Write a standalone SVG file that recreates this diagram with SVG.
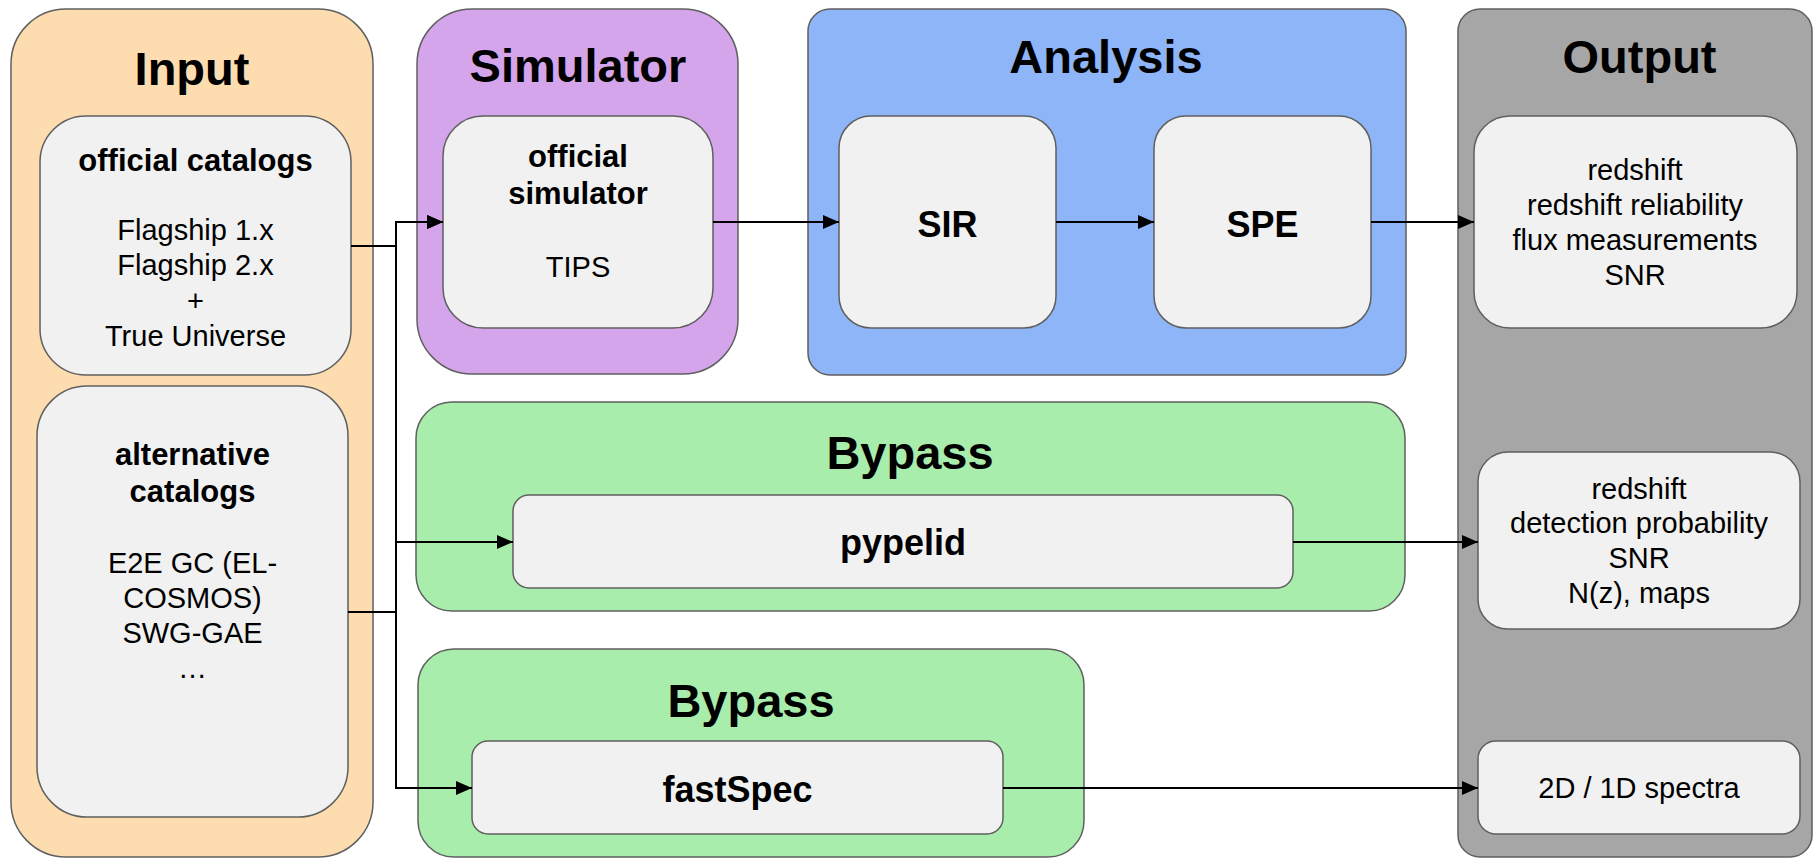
<svg xmlns="http://www.w3.org/2000/svg" width="1813" height="858" viewBox="0 0 1813 858">
<defs>
<marker id="ah" markerWidth="16" markerHeight="14" refX="16" refY="7" orient="auto" markerUnits="userSpaceOnUse">
<path d="M0,0 L16,7 L0,14 Z" fill="#000"/>
</marker>
<style>
.c{stroke:#5f5f5f;stroke-width:1.5}
.in{fill:#f1f1f1;stroke:#5f5f5f;stroke-width:1.5}
text{font-family:"Liberation Sans",Arial,sans-serif;fill:#000;text-anchor:middle}
.t{font-size:47px;font-weight:bold}
.b{font-size:31px;font-weight:bold}
.bb{font-size:36px;font-weight:bold}
.r{font-size:29px}
.e{fill:none;stroke:#000;stroke-width:2}
</style>
</defs>
<rect width="1813" height="858" fill="#fff"/>
<g id="input">
<rect class="c" x="11" y="9" width="362" height="848" rx="55" fill="#fddcb0"/>
<text class="t" x="192" y="85">Input</text>
</g>
<g id="official-catalogs">
<rect class="in" x="40" y="116" width="311" height="259" rx="46"/>
<text class="b" x="195.5" y="171">official catalogs</text>
<text class="r" x="195.5" y="240">Flagship 1.x</text>
<text class="r" x="195.5" y="275">Flagship 2.x</text>
<text class="r" x="195.5" y="311">+</text>
<text class="r" x="195.5" y="346">True Universe</text>
</g>
<g id="alternative-catalogs">
<rect class="in" x="37" y="386" width="311" height="431" rx="50"/>
<text class="b" x="192.5" y="465">alternative</text>
<text class="b" x="192.5" y="502">catalogs</text>
<text class="r" x="192.5" y="573">E2E GC (EL-</text>
<text class="r" x="192.5" y="608">COSMOS)</text>
<text class="r" x="192.5" y="643">SWG-GAE</text>
<text class="r" x="192.5" y="678">…</text>
</g>
<g id="simulator">
<rect class="c" x="417" y="9" width="321" height="365" rx="55" fill="#d4a5ea"/>
<text class="t" x="578" y="82">Simulator</text>
</g>
<g id="official-simulator">
<rect class="in" x="443" y="116" width="270" height="212" rx="40"/>
<text class="b" x="578" y="167">official</text>
<text class="b" x="578" y="204">simulator</text>
<text class="r" x="578" y="277">TIPS</text>
</g>
<g id="analysis">
<rect class="c" x="808" y="9" width="598" height="366" rx="22" fill="#8eb5f8"/>
<text class="t" x="1106" y="73">Analysis</text>
</g>
<g id="sir">
<rect class="in" x="839" y="116" width="217" height="212" rx="32"/>
<text class="bb" x="947.5" y="237">SIR</text>
</g>
<g id="spe">
<rect class="in" x="1154" y="116" width="217" height="212" rx="32"/>
<text class="bb" x="1262.5" y="237">SPE</text>
</g>
<g id="output">
<rect class="c" x="1458" y="9" width="354" height="848" rx="22" fill="#a6a6a6"/>
<text class="t" x="1639.5" y="73">Output</text>
</g>
<g id="output-1">
<rect class="in" x="1474" y="116" width="323" height="212" rx="36"/>
<text class="r" x="1635" y="180">redshift</text>
<text class="r" x="1635" y="215">redshift reliability</text>
<text class="r" x="1635" y="250">flux measurements</text>
<text class="r" x="1635" y="285">SNR</text>
</g>
<g id="output-2">
<rect class="in" x="1478" y="452" width="322" height="177" rx="30"/>
<text class="r" x="1639" y="499">redshift</text>
<text class="r" x="1639" y="533">detection probability</text>
<text class="r" x="1639" y="568">SNR</text>
<text class="r" x="1639" y="603">N(z), maps</text>
</g>
<g id="output-3">
<rect class="in" x="1478" y="741" width="322" height="93" rx="18"/>
<text class="r" x="1639" y="798">2D / 1D spectra</text>
</g>
<g id="bypass-1">
<rect class="c" x="416" y="402" width="989" height="209" rx="36" fill="#a8edab"/>
<text class="t" x="910" y="469">Bypass</text>
</g>
<g id="pypelid">
<rect class="in" x="513" y="495" width="780" height="93" rx="16"/>
<text class="bb" x="903" y="555">pypelid</text>
</g>
<g id="bypass-2">
<rect class="c" x="418" y="649" width="666" height="208" rx="36" fill="#a8edab"/>
<text class="t" x="751" y="717">Bypass</text>
</g>
<g id="fastspec">
<rect class="in" x="472" y="741" width="531" height="93" rx="16"/>
<text class="bb" x="737.5" y="802">fastSpec</text>
</g>
<g id="connectors">
<path class="e" d="M351,246 H396 V222 H443" marker-end="url(#ah)"/>
<path class="e" d="M348,612 H396 V222 H443" marker-end="url(#ah)"/>
<path class="e" d="M348,612 H396 V542 H513" marker-end="url(#ah)"/>
<path class="e" d="M348,612 H396 V788 H472" marker-end="url(#ah)"/>
<path class="e" d="M713,222 H839" marker-end="url(#ah)"/>
<path class="e" d="M1056,222 H1154" marker-end="url(#ah)"/>
<path class="e" d="M1371,222 H1474" marker-end="url(#ah)"/>
<path class="e" d="M1293,542 H1478" marker-end="url(#ah)"/>
<path class="e" d="M1003,788 H1478" marker-end="url(#ah)"/>
</g>
</svg>
